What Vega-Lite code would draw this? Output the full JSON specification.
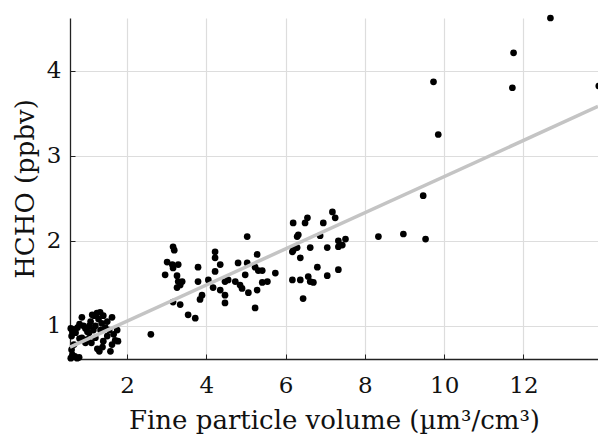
{
  "$schema": "https://vega.github.io/schema/vega-lite/v6.json",
  "autosize": "none",
  "width": 528,
  "height": 341,
  "padding": {"left": 70, "top": 18, "right": 0, "bottom": 86},
  "background": "white",
  "config": {
    "view": {"stroke": null},
    "font": "DejaVu Serif",
    "axis": {
      "domainColor": "#222222",
      "domainWidth": 1.3,
      "tickColor": "#222222",
      "tickSize": -5,
      "tickWidth": 1,
      "gridColor": "#dddddd",
      "gridWidth": 1.2,
      "labelFont": "DejaVu Serif",
      "labelFontSize": 23,
      "labelColor": "#111111",
      "titleFont": "DejaVu Serif",
      "titleFontSize": 26,
      "titleFontWeight": "normal",
      "titleColor": "#111111"
    }
  },
  "datasets": {
    "pts": [
      {"x": 0.58, "y": 0.97}, {"x": 0.62, "y": 0.93}, {"x": 0.6, "y": 0.88}, {"x": 0.65, "y": 0.95},
      {"x": 0.7, "y": 0.92}, {"x": 0.75, "y": 0.98}, {"x": 0.8, "y": 1.02}, {"x": 0.86, "y": 1.1},
      {"x": 0.9, "y": 1.0}, {"x": 0.95, "y": 0.97}, {"x": 1.0, "y": 0.93}, {"x": 1.04, "y": 0.92},
      {"x": 1.08, "y": 1.05}, {"x": 1.12, "y": 1.13}, {"x": 1.17, "y": 1.12}, {"x": 1.2, "y": 1.0},
      {"x": 1.24, "y": 1.15}, {"x": 1.28, "y": 1.08}, {"x": 1.32, "y": 1.16}, {"x": 1.36, "y": 1.03},
      {"x": 1.4, "y": 1.12}, {"x": 1.45, "y": 0.98}, {"x": 1.5, "y": 1.05}, {"x": 1.55, "y": 0.95},
      {"x": 1.62, "y": 1.1}, {"x": 1.66, "y": 0.9}, {"x": 1.7, "y": 0.83}, {"x": 1.75, "y": 0.95},
      {"x": 1.77, "y": 0.82}, {"x": 0.58, "y": 0.62}, {"x": 0.62, "y": 0.66}, {"x": 0.68, "y": 0.64},
      {"x": 0.74, "y": 0.62}, {"x": 0.79, "y": 0.63}, {"x": 0.6, "y": 0.72}, {"x": 0.66, "y": 0.78},
      {"x": 0.86, "y": 0.86}, {"x": 1.0, "y": 0.84}, {"x": 1.1, "y": 0.8}, {"x": 1.2, "y": 0.86},
      {"x": 1.25, "y": 0.73}, {"x": 1.3, "y": 0.7}, {"x": 1.38, "y": 0.75}, {"x": 1.4, "y": 0.82},
      {"x": 1.5, "y": 0.88}, {"x": 1.58, "y": 0.7}, {"x": 1.62, "y": 0.78}, {"x": 0.95, "y": 0.8},
      {"x": 1.15, "y": 0.95}, {"x": 1.05, "y": 1.0}, {"x": 0.8, "y": 0.85}, {"x": 1.33, "y": 0.95},
      {"x": 2.6, "y": 0.9},
      {"x": 3.16, "y": 1.93}, {"x": 3.19, "y": 1.89}, {"x": 3.01, "y": 1.75}, {"x": 3.14, "y": 1.72},
      {"x": 3.29, "y": 1.72}, {"x": 3.16, "y": 1.68}, {"x": 2.96, "y": 1.6}, {"x": 3.26, "y": 1.59},
      {"x": 3.39, "y": 1.52}, {"x": 3.29, "y": 1.52}, {"x": 3.26, "y": 1.45}, {"x": 3.34, "y": 1.48},
      {"x": 3.79, "y": 1.69}, {"x": 3.79, "y": 1.52}, {"x": 4.05, "y": 1.54}, {"x": 4.22, "y": 1.87},
      {"x": 4.22, "y": 1.8}, {"x": 4.35, "y": 1.72}, {"x": 4.22, "y": 1.64}, {"x": 4.17, "y": 1.45},
      {"x": 4.35, "y": 1.42}, {"x": 4.47, "y": 1.52}, {"x": 4.55, "y": 1.54}, {"x": 4.47, "y": 1.36},
      {"x": 4.47, "y": 1.27}, {"x": 3.89, "y": 1.36}, {"x": 3.84, "y": 1.31}, {"x": 3.16, "y": 1.28},
      {"x": 3.34, "y": 1.25}, {"x": 3.54, "y": 1.13}, {"x": 3.72, "y": 1.09}, {"x": 4.8, "y": 1.74},
      {"x": 5.03, "y": 1.74}, {"x": 5.03, "y": 2.05}, {"x": 5.28, "y": 1.84}, {"x": 5.23, "y": 1.69},
      {"x": 5.31, "y": 1.65}, {"x": 5.41, "y": 1.65}, {"x": 4.98, "y": 1.6}, {"x": 4.73, "y": 1.52},
      {"x": 4.85, "y": 1.48}, {"x": 4.9, "y": 1.44}, {"x": 5.06, "y": 1.39}, {"x": 5.28, "y": 1.42},
      {"x": 5.41, "y": 1.51}, {"x": 5.54, "y": 1.52}, {"x": 5.23, "y": 1.21}, {"x": 5.74, "y": 1.62},
      {"x": 6.19, "y": 2.21}, {"x": 6.29, "y": 2.05}, {"x": 6.17, "y": 1.87}, {"x": 6.17, "y": 1.54},
      {"x": 7.18, "y": 2.34}, {"x": 7.25, "y": 2.27}, {"x": 6.55, "y": 2.27}, {"x": 6.49, "y": 2.21},
      {"x": 6.95, "y": 2.21}, {"x": 6.32, "y": 2.07}, {"x": 6.87, "y": 2.06}, {"x": 6.19, "y": 1.89},
      {"x": 6.29, "y": 1.92}, {"x": 6.62, "y": 1.92}, {"x": 7.05, "y": 1.92}, {"x": 7.33, "y": 2.0},
      {"x": 7.33, "y": 1.93}, {"x": 7.51, "y": 2.02}, {"x": 7.43, "y": 1.95}, {"x": 6.37, "y": 1.8},
      {"x": 6.8, "y": 1.69}, {"x": 7.33, "y": 1.66}, {"x": 7.05, "y": 1.59}, {"x": 6.37, "y": 1.54},
      {"x": 6.57, "y": 1.58}, {"x": 6.62, "y": 1.52}, {"x": 6.7, "y": 1.51}, {"x": 6.44, "y": 1.32},
      {"x": 8.34, "y": 2.05}, {"x": 8.97, "y": 2.08}, {"x": 9.53, "y": 2.02}, {"x": 9.47, "y": 2.53},
      {"x": 9.85, "y": 3.25}, {"x": 9.73, "y": 3.87}, {"x": 11.75, "y": 4.21}, {"x": 11.72, "y": 3.8},
      {"x": 12.68, "y": 4.62}, {"x": 13.9, "y": 3.82}
    ],
    "fit": [
      {"x": 0.56, "y": 0.75},
      {"x": 13.88, "y": 3.58}
    ]
  },
  "layer": [
    {
      "data": {"name": "pts"},
      "mark": {"type": "point", "filled": true, "color": "black", "opacity": 1, "size": 45},
      "encoding": {
        "x": {
          "field": "x", "type": "quantitative",
          "scale": {"domain": [0.56, 13.88], "nice": false, "zero": false},
          "axis": {"values": [2, 4, 6, 8, 10, 12], "format": "d", "title": "Fine particle volume (µm³/cm³)", "labelPadding": 20, "titlePadding": 10, "labelFlush": false}
        },
        "y": {
          "field": "y", "type": "quantitative",
          "scale": {"domain": [0.61, 4.62], "nice": false, "zero": false},
          "axis": {"values": [1, 2, 3, 4], "format": "d", "title": "HCHO (ppbv)", "labelPadding": 14, "titlePadding": 8, "labelFlush": false}
        }
      }
    },
    {
      "data": {"name": "fit"},
      "mark": {"type": "line", "color": "#c4c4c4", "strokeWidth": 3.5},
      "encoding": {
        "x": {"field": "x", "type": "quantitative"},
        "y": {"field": "y", "type": "quantitative"}
      }
    }
  ]
}
